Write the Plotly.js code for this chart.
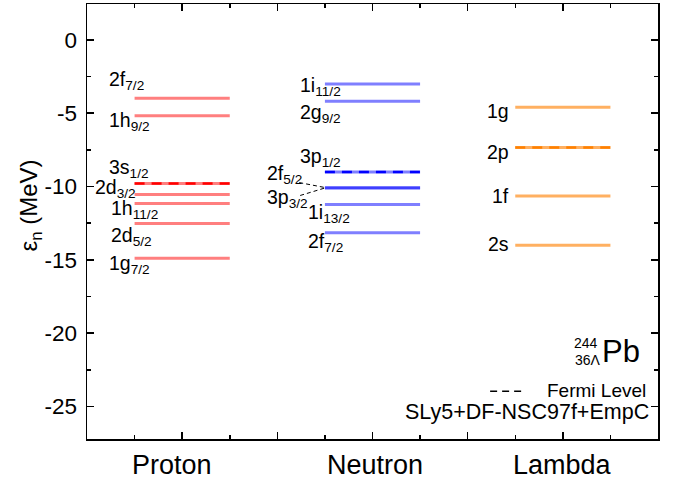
<!DOCTYPE html>
<html>
<head>
<meta charset="utf-8">
<script src="https://cdn.plot.ly/plotly-3.0.1.min.js"></script>
<style>html,body{margin:0;padding:0;background:#fff;}#chart{width:677px;height:482px;}</style>
</head>
<body>
<div id="chart"></div>
<script>
// ---- data ----
const categories = ["Proton", "Neutron", "Lambda"];

const protonOrbits = ["1g", "2d", "1h", "2d", "3s", "1h", "2f"];
const protonJ      = ["7/2", "5/2", "11/2", "3/2", "1/2", "9/2", "7/2"];
const protonE      = [-14.90, -12.52, -11.16, -10.55, -9.80, -5.18, -3.98];
const protonFermi  = 4;

const neutronOrbits = ["2f", "1i", "3p", "2f", "3p", "2g", "1i"];
const neutronJ      = ["7/2", "13/2", "3/2", "5/2", "1/2", "9/2", "11/2"];
const neutronE      = [-13.15, -11.23, -10.10, -10.08, -9.01, -4.18, -3.01];
const neutronFermi  = 4;

const lambdaOrbits = ["2s", "1f", "2p", "1g"];
const lambdaE      = [-14.01, -10.64, -7.34, -4.59];
const lambdaFermi  = 2;

const yTickVals = [0, -5, -10, -15, -20, -25];
const yTickText = ["0", "-5", "-10", "-15", "-20", "-25"];

const yTitle = "\u03B5<sub>n</sub> (MeV)";
const nucleusMass = "244";
const nucleusSub = "36\u039B";
const nucleusName = "Pb";
const legendText = "Fermi Level";
const modelText = "SLy5+DF-NSC97f+EmpC";

// ---- styling / layout helpers ----
const FONT = "Liberation Sans, Arial, sans-serif";
const halfW = 0.25;
const groups = [
  {orbits: protonOrbits, j: protonJ, e: protonE, fermi: protonFermi, pos: 1,
   color: "rgba(255,0,0,0.5)", dash: "#ff0000",
   lx: [-75, -73, -73, -89, -75, -75, -75], ly: [-4, -11, -4, 8, 17, -4, 20], anchor: "left"},
  {orbits: neutronOrbits, j: neutronJ, e: neutronE, fermi: neutronFermi, pos: 2,
   color: "rgba(0,0,255,0.5)", dash: "#0000ff",
   lx: [-67, -67, -108, -108, -75, -75, -75], ly: [-8, -7, -8, 15, 17, -10, 0], anchor: "left"},
  {orbits: lambdaOrbits, j: null, e: lambdaE, fermi: lambdaFermi, pos: 3,
   color: "rgba(255,128,0,0.62)", dash: "#ff8000",
   lx: [-52, -52, -52, -52], ly: [1, 0, -4, -4], anchor: "right"}
];

const traces = [];
const annotations = [];
const shapes = [];

groups.forEach(g => {
  g.e.forEach((E, i) => {
    traces.push({
      x: [g.pos - halfW, g.pos + halfW], y: [E, E],
      mode: "lines", line: {color: g.color, width: 3},
      hoverinfo: "skip", showlegend: false
    });
    const txt = g.j ? g.orbits[i] + "<sub>" + g.j[i] + "</sub>" : g.orbits[i];
    annotations.push({
      x: g.pos, y: E, xref: "x", yref: "y",
      text: txt, showarrow: false,
      xanchor: g.anchor, yanchor: "middle",
      xshift: g.lx[i], yshift: g.ly[i] - (g.j ? 2 : 0),
      font: {family: FONT, size: 19.5, color: "#000"}
    });
  });
  const F = g.e[g.fermi];
  traces.push({
    x: [g.pos - halfW, g.pos + halfW], y: [F, F],
    mode: "lines", line: {color: g.dash, width: 2.5, dash: "10px,7px"},
    hoverinfo: "skip", showlegend: false
  });
});

// connectors for neutron 2f5/2 and 3p3/2 labels
const nPos = 2;
const joinE = neutronE[3];
shapes.push({type: "line", xref: "x", yref: "y",
  x0: nPos - 0.385, y0: joinE + 0.35, x1: nPos - 0.245, y1: joinE,
  line: {color: "#000", width: 1, dash: "4px,3px"}});
shapes.push({type: "line", xref: "x", yref: "y",
  x0: nPos - 0.38, y0: joinE - 0.53, x1: nPos - 0.245, y1: joinE,
  line: {color: "#000", width: 1, dash: "4px,3px"}});

// category labels
const catShift = [-10, 2, 0];
categories.forEach((c, i) => {
  annotations.push({
    x: i + 1, y: 0, xref: "x", yref: "paper", yshift: -26,
    xshift: catShift[i], text: c, showarrow: false,
    xanchor: "center", yanchor: "middle",
    font: {family: FONT, size: 27, color: "#000"}
  });
});

// y-axis title
annotations.push({x: -0.099, y: 0.538, xref: "paper", yref: "paper", text: yTitle,
  showarrow: false, textangle: -90, xanchor: "center", yanchor: "middle",
  font: {family: FONT, size: 24, color: "#000"}});

// nucleus label
annotations.push({x: 0.898, y: 0.2016, xref: "paper", yref: "paper", text: nucleusName,
  showarrow: false, xanchor: "left", yanchor: "middle",
  font: {family: FONT, size: 31, color: "#000"}});
annotations.push({x: 0.899, y: 0.221, xref: "paper", yref: "paper", text: nucleusMass,
  showarrow: false, xanchor: "right", yanchor: "middle",
  font: {family: FONT, size: 14, color: "#000"}});
annotations.push({x: 0.903, y: 0.181, xref: "paper", yref: "paper", text: nucleusSub,
  showarrow: false, xanchor: "right", yanchor: "middle",
  font: {family: FONT, size: 14, color: "#000"}});

// legend
shapes.push({type: "line", xref: "paper", yref: "paper",
  x0: 0.706, x1: 0.768, y0: 0.1097, y1: 0.1097,
  line: {color: "#000", width: 1.5, dash: "7px,5px"}});
annotations.push({x: 0.802, y: 0.111, xref: "paper", yref: "paper", text: legendText,
  showarrow: false, xanchor: "left", yanchor: "middle",
  font: {family: FONT, size: 19, color: "#000"}});
annotations.push({x: 0.987, y: 0.061, xref: "paper", yref: "paper", text: modelText,
  showarrow: false, xanchor: "right", yanchor: "middle",
  font: {family: FONT, size: 21.5, color: "#000"}});

const axisCommon = {
  showline: true, linecolor: "#000", linewidth: 1.5, mirror: "allticks",
  ticks: "inside", ticklen: 7, tickwidth: 1.5, tickcolor: "#000",
  showgrid: false, zeroline: false
};

const layout = {
  width: 677, height: 482,
  margin: {l: 87, r: 19, t: 4, b: 43},
  paper_bgcolor: "#fff", plot_bgcolor: "#fff",
  showlegend: false,
  xaxis: Object.assign({}, axisCommon, {
    range: [0.5, 3.5], tickmode: "linear", tick0: 0.5, dtick: 0.5,
    showticklabels: false,
    minor: {ticks: "inside", ticklen: 4, tickwidth: 1.5, tickcolor: "#000", dtick: 0.25, tick0: 0.5, showgrid: false}
  }),
  yaxis: Object.assign({}, axisCommon, {
    range: [-27.22, 2.45], tickmode: "array", tickvals: yTickVals, ticktext: yTickText,
    tickfont: {family: FONT, size: 22.5, color: "#000"},
    ticklabelstandoff: 4,
    minor: {ticks: "inside", ticklen: 4, tickwidth: 1.5, tickcolor: "#000", dtick: 2.5, tick0: 0, showgrid: false}
  }),
  annotations: annotations,
  shapes: shapes
};

Plotly.newPlot("chart", traces, layout, {staticPlot: true, displayModeBar: false});
</script>
</body>
</html>
